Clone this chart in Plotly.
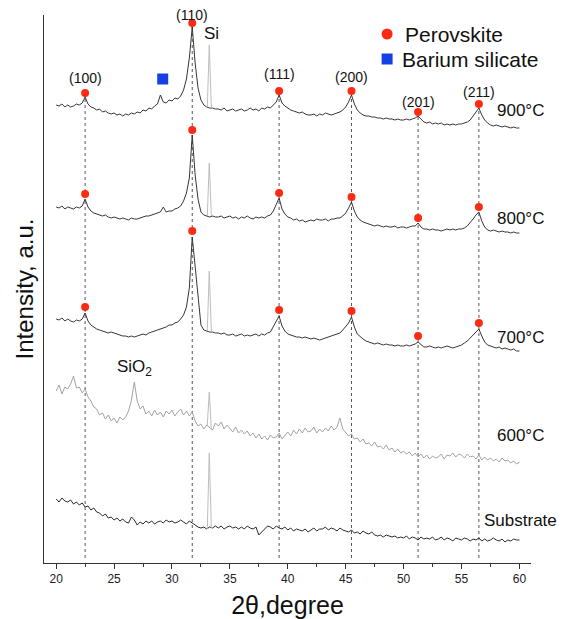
import numpy as np
import plotly.graph_objects as go

# 2theta sampling (0.25 deg steps)
two_theta = np.round(np.arange(20, 60.001, 0.25), 2)

# intensities (a.u.), one value per 0.25 deg
int_900 = [
    28, 27, 29, 26, 28, 26, 27, 29, 28, 30, 36, 29, 26, 25, 23, 24,
    21, 22, 20, 19, 20, 18, 19, 17, 19, 18, 20, 19, 21, 20, 23, 22,
    25, 24, 27, 29, 38, 31, 30, 33, 32, 35, 34, 37, 43, 54, 75, 106,
    70, 45, 33, 28, 26, 25, 25, 24, 24, 23, 25, 22, 23, 24, 22, 23,
    24, 22, 23, 25, 23, 24, 22, 25, 24, 26, 25, 28, 31, 38, 30, 27,
    25, 23, 22, 21, 20, 21, 19, 18, 18, 19, 17, 19, 18, 20, 19, 18,
    19, 20, 21, 23, 26, 31, 38, 29, 23, 20, 18, 17, 17, 16, 16, 15,
    15, 14, 15, 14, 14, 13, 14, 13, 13, 14, 13, 14, 15, 17, 14, 11,
    10, 11, 9, 10, 9, 10, 8, 9, 8, 9, 8, 9, 9, 10, 11, 13,
    17, 22, 25, 18, 13, 10, 8, 7, 8, 7, 6, 7, 6, 5, 6, 5,
    5,
]
int_800 = [
    36, 35, 37, 34, 36, 35, 34, 36, 35, 37, 44, 36, 32, 30, 29, 28,
    27, 28, 26, 25, 26, 25, 24, 25, 24, 23, 25, 24, 24, 25, 26, 27,
    27, 28, 29, 30, 31, 36, 31, 32, 32, 34, 35, 37, 42, 50, 65, 108,
    68, 44, 31, 28, 27, 26, 27, 26, 26, 27, 25, 26, 27, 25, 26, 24,
    26, 25, 27, 25, 24, 26, 25, 26, 25, 27, 28, 32, 38, 45, 34, 29,
    26, 25, 23, 24, 22, 23, 21, 22, 23, 22, 24, 23, 23, 24, 22, 24,
    24, 25, 25, 27, 30, 35, 41, 32, 26, 23, 21, 20, 19, 18, 17, 18,
    17, 16, 17, 16, 16, 17, 15, 16, 16, 15, 16, 17, 17, 20, 16, 14,
    14, 13, 14, 13, 13, 12, 13, 14, 13, 14, 13, 14, 14, 15, 17, 20,
    24, 28, 31, 22, 16, 13, 12, 13, 12, 11, 12, 11, 11, 10, 11, 10,
    10,
]
int_700 = [
    44, 43, 45, 42, 44, 42, 41, 43, 42, 44, 50, 42, 38, 36, 34, 33,
    32, 31, 30, 31, 30, 29, 28, 27, 27, 26, 27, 26, 27, 28, 29, 28,
    30, 31, 32, 33, 34, 35, 36, 38, 38, 40, 41, 44, 48, 56, 75, 126,
    96, 63, 38, 33, 32, 31, 31, 30, 30, 29, 30, 28, 28, 29, 27, 28,
    29, 27, 28, 27, 28, 29, 27, 29, 28, 30, 31, 36, 41, 47, 37, 32,
    29, 28, 27, 26, 26, 25, 26, 25, 24, 25, 24, 23, 24, 25, 26, 27,
    28, 29, 30, 33, 36, 40, 46, 36, 29, 26, 24, 22, 21, 20, 19, 20,
    19, 18, 19, 18, 18, 17, 18, 17, 17, 18, 17, 18, 19, 21, 18, 16,
    16, 17, 16, 15, 16, 15, 16, 17, 16, 15, 16, 17, 18, 20, 22, 25,
    28, 31, 34, 27, 21, 18, 17, 16, 15, 16, 14, 15, 14, 13, 14, 12,
    12,
]
int_600 = [
    82, 88, 79, 86, 84, 89, 97, 85, 86, 80, 84, 76, 72, 66, 64, 58,
    60, 54, 58, 52, 55, 50, 56, 53, 56, 62, 73, 91, 72, 64, 67, 59,
    62, 57, 63, 58, 61, 56, 62, 59, 63, 57, 61, 64, 58, 62, 57, 61,
    52, 47, 49, 44, 48, 45, 43, 50, 47, 51, 44, 48, 45, 41, 46, 40,
    43, 39, 42, 37, 40, 35, 39, 34, 37, 33, 38, 35, 36, 40, 34, 38,
    41, 37, 43, 39, 44, 40, 45, 41, 42, 46, 40, 44, 41, 45, 42, 47,
    43, 46, 55, 44, 41, 37, 39, 34, 35, 31, 34, 29, 30, 27, 31, 26,
    27, 24, 28, 23, 25, 21, 24, 20, 22, 19, 21, 17, 20, 16, 19, 15,
    18, 14, 17, 15, 16, 19, 14, 18, 17, 20, 16, 19, 18, 15, 19, 16,
    17, 14, 18, 13, 16, 13, 15, 12, 14, 11, 15, 12, 13, 10, 12, 9,
    11,
]
int_sub = [
    64, 61, 65, 62, 61, 63, 59, 61, 58, 60, 56, 57, 53, 55, 51, 50,
    47, 49, 45, 46, 43, 45, 42, 44, 41, 40, 46, 43, 38, 41, 39, 42,
    40, 42, 39, 41, 42, 40, 43, 41, 42, 40, 41, 43, 41, 39, 42, 40,
    38, 36, 35, 36, 34, 36, 35, 37, 35, 37, 34, 36, 37, 35, 36, 34,
    36, 34, 37, 35, 34, 36, 28, 31, 35, 37, 36, 34, 37, 35, 34, 36,
    33, 35, 32, 34, 33, 32, 34, 31, 33, 35, 32, 34, 34, 36, 33, 35,
    34, 32, 35, 33, 32, 31, 33, 30, 31, 29, 32, 30, 29, 31, 28, 27,
    28, 26, 28, 27, 26, 27, 25, 26, 25, 27, 24, 26, 25, 23, 26, 24,
    25, 24, 26, 23, 24, 26, 23, 25, 24, 22, 25, 24, 23, 25, 24, 22,
    24, 23, 25, 22, 24, 22, 23, 25, 23, 22, 24, 21, 23, 22, 24, 23,
    23,
]

samples = ["900°C", "800°C", "700°C", "600°C", "Substrate"]
patterns = [int_900, int_800, int_700, int_600, int_sub]
offsets = [430, 320, 200, 90, 0]
line_colors = ["#363636", "#363636", "#363636", "#a3a3a3", "#2a2a2a"]

# Si substrate reflection (drawn light grey), peak height per pattern
si_pos = [33.05, 33.22, 33.4]
si_top = [88, 80, 92, 81, 110]

perovskite_peaks = [22.5, 31.75, 39.25, 45.5, 51.25, 56.5]
peak_labels = ["(100)", "(110)", "(111)", "(200)", "(201)", "(211)"]
ba_silicate_peak = 29.2

FONT = "Liberation Sans, Arial, sans-serif"
RED = "#ff2a12"
BLUE = "#1440e6"


def idx(t):
    return int(round((t - 20) / 0.25))


fig = go.Figure()

# dashed guide lines from the 900C peaks down to the axis
for p in perovskite_peaks:
    top = int_900[idx(p)] + offsets[0]
    fig.add_shape(type="line", x0=p, x1=p, y0=5, y1=top, layer="below",
                  line=dict(color="#555", width=1, dash="dot"))

for name, vals, off, col, st in zip(samples, patterns, offsets, line_colors, si_top):
    y = np.array(vals) + off
    fig.add_trace(go.Scatter(x=two_theta, y=y, mode="lines", name=name,
                             line=dict(color=col, width=1), showlegend=False))
    base_l = vals[idx(33.0)] + off
    base_r = vals[idx(33.5)] + off
    fig.add_trace(go.Scatter(x=si_pos, y=[base_l, st + off, base_r], mode="lines",
                             line=dict(color="#bdbdbd", width=1), showlegend=False))

# perovskite markers on 900, 800, 700 C patterns
dot_gap = [4, 5, 6]
dot_x, dot_y = [], []
for vals, off, gap in zip(patterns[:3], offsets[:3], dot_gap):
    for p in perovskite_peaks:
        dot_x.append(p)
        dot_y.append(vals[idx(p)] + off + gap)
fig.add_trace(go.Scatter(x=dot_x, y=dot_y, mode="markers", name="Perovskite", showlegend=False,
                         marker=dict(color=RED, size=8, symbol="circle")))

bs_y = int_900[idx(29.0)] + offsets[0] + 16
fig.add_trace(go.Scatter(x=[ba_silicate_peak], y=[bs_y], mode="markers", name="Barium silicate",
                         showlegend=False, marker=dict(color=BLUE, size=11, symbol="square")))

# legend drawn by hand (symbol + text)
fig.add_shape(type="circle", x0=48.1, x1=49.05, y0=523.5, y1=534.5, fillcolor=RED, line_width=0)
fig.add_shape(type="rect", x0=48.1, x1=49.05, y0=498.5, y1=509.5, fillcolor=BLUE, line_width=0)
fig.add_annotation(x=49.95, y=529, text="Perovskite", showarrow=False, xanchor="left",
                   font=dict(size=21, color="#111", family=FONT))
fig.add_annotation(x=49.7, y=504, text="Barium silicate", showarrow=False, xanchor="left",
                   font=dict(size=21, color="#111", family=FONT))

# hkl labels above the 900C markers
label_lift = [15, 8.5, 17, 14, 10, 12]
for p, lab, lift in zip(perovskite_peaks, peak_labels, label_lift):
    fig.add_annotation(x=p, y=int_900[idx(p)] + offsets[0] + dot_gap[0], text=lab, showarrow=False,
                       yanchor="middle", yshift=lift, font=dict(size=14, color="#111", family=FONT))

for name, y in zip(samples, [453, 345, 226, 128, 43]):
    fig.add_annotation(x=60.1, y=y, text=name, showarrow=False, xanchor="center",
                       font=dict(size=17, color="#111", family=FONT))

fig.add_annotation(x=33.45, y=530, text="Si", showarrow=False, xanchor="center",
                   font=dict(size=17, color="#111", family=FONT))
fig.add_annotation(x=26.75, y=195, text="SiO<sub>2</sub>", showarrow=False,
                   font=dict(size=17, color="#111", family=FONT))

fig.update_xaxes(range=[18.95, 61.0], dtick=5, ticks="outside", ticklen=5, tickcolor="#333",
                 showline=True, linecolor="#333", linewidth=1, showgrid=False, zeroline=False,
                 minor=dict(dtick=2.5, ticks="outside", ticklen=3, tickcolor="#333"),
                 tickfont=dict(size=12, color="#222", family=FONT), automargin=False,
                 title=dict(text="2θ,degree", font=dict(size=25, color="#111", family=FONT), standoff=11))
fig.update_yaxes(range=[0, 548], showticklabels=False, ticks="", showline=True, linecolor="#333",
                 linewidth=1, showgrid=False, zeroline=False, automargin=False,
                 title=dict(text="Intensity, a.u.", font=dict(size=24, color="#111", family=FONT), standoff=2))

# page body adds 8px around the figure, so the figure is 8px smaller each way
fig.update_layout(
    width=559, height=611,
    margin=dict(l=36, r=36, t=7, b=56),
    plot_bgcolor="white", paper_bgcolor="white",
    font=dict(family=FONT),
    showlegend=False,
)

fig.write_html("out.html")
